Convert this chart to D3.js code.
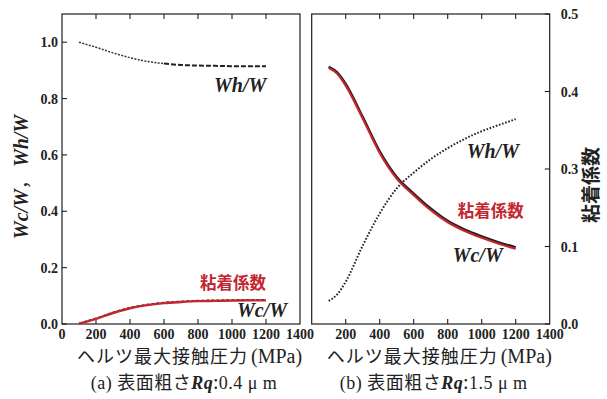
<!DOCTYPE html>
<html>
<head>
<meta charset="utf-8">
<script src="https://cdn.jsdelivr.net/npm/d3@7"></script>
<style>
  html, body { margin: 0; padding: 0; background: #fff; }
  svg { display: block; }
  .num { font-family: "Liberation Serif", "DejaVu Serif", serif; font-weight: bold; font-size: 14px; fill: #222; }
  .var { font-family: "Liberation Serif", "DejaVu Serif", serif; font-weight: bold; font-style: italic; fill: #222; }
  .jp  { font-family: "Noto Sans CJK JP", sans-serif; fill: #222; }
  .lat { font-family: "Liberation Serif", "DejaVu Serif", serif; fill: #222; }
</style>
</head>
<body>
<svg id="chart" width="607" height="399"></svg>
<script>
// Hertzian max contact pressure (MPa)
const pressure = [100, 150, 200, 300, 400, 500, 600, 700, 800, 900, 1000, 1100, 1200];

// (a) Rq = 0.4 um
const whA  = [1.000, 0.991, 0.982, 0.962, 0.945, 0.932, 0.924, 0.919, 0.917, 0.916, 0.915, 0.915, 0.915];
const wcA  = [0.003, 0.011, 0.020, 0.041, 0.058, 0.069, 0.076, 0.080, 0.083, 0.084, 0.085, 0.086, 0.086];
const adhA = [0.001, 0.009, 0.018, 0.039, 0.056, 0.067, 0.074, 0.078, 0.081, 0.082, 0.083, 0.084, 0.084];

// (b) Rq = 1.5 um
const whB  = [0.082, 0.105, 0.150, 0.278, 0.392, 0.481, 0.537, 0.585, 0.624, 0.657, 0.684, 0.706, 0.727];
const wcB  = [0.913, 0.893, 0.852, 0.735, 0.613, 0.522, 0.463, 0.410, 0.366, 0.335, 0.311, 0.290, 0.272];
const adhB = [0.908, 0.888, 0.846, 0.729, 0.607, 0.516, 0.457, 0.404, 0.361, 0.330, 0.306, 0.285, 0.267];

// axis ticks
const xTicks = [0, 200, 400, 600, 800, 1000, 1200, 1400];
const yTicks = [0, 0.2, 0.4, 0.6, 0.8, 1.0];
const adhAxisLabels = ["0.0", "0.1", "0.3", "0.4", "0.5"];

const RED = "#c3262e";
const INK = "#1e1e1e";

const svg = d3.select("#chart");
const W = 238, H = 310, TOP = 14;

const x = d3.scaleLinear().domain([0, 1400]).range([0, W]);
const y = d3.scaleLinear().domain([0, 1.1]).range([H, 0]);
const yAdh = d3.scalePoint().domain(adhAxisLabels).range([H, 0]);

const line = (vals, offset = 0) => d3.line()
  .x((d, i) => x(pressure[i + offset]))
  .y(d => y(d))
  .curve(d3.curveMonotoneX)(vals);

function frame(g, labelTicks) {
  g.append("rect").attr("x", 0).attr("y", 0).attr("width", W).attr("height", H)
    .attr("fill", "none").attr("stroke", INK).attr("stroke-width", 1.2);
  // inward ticks on top and bottom
  const inner = xTicks.filter(t => t > 0 && t < 1400);
  g.selectAll(".tt").data(inner).join("line")
    .attr("x1", d => x(d)).attr("x2", d => x(d)).attr("y1", 0).attr("y2", 5)
    .attr("stroke", INK).attr("stroke-width", 1.1);
  g.selectAll(".tb").data(inner).join("line")
    .attr("x1", d => x(d)).attr("x2", d => x(d)).attr("y1", H).attr("y2", H - 5)
    .attr("stroke", INK).attr("stroke-width", 1.1);
  // bottom tick labels
  g.selectAll(".xl").data(labelTicks).join("text").attr("class", "num")
    .attr("x", d => x(d)).attr("y", H + 15).attr("text-anchor", "middle").text(d => d);
}

function xTitle(g) {
  const t = g.append("text").attr("x", 15).attr("y", H + 39);
  t.append("tspan").attr("class", "jp").attr("font-size", 18).attr("letter-spacing", 1).text("ヘルツ最大接触圧力");
  t.append("tspan").attr("class", "lat").attr("font-size", 20).attr("dx", 3).text("(MPa)");
}

function subTitle(g, tag, val) {
  const t = g.append("text").attr("x", W / 2 + 3).attr("y", H + 65).attr("text-anchor", "middle")
    .attr("letter-spacing", 0.5);
  t.append("tspan").attr("class", "lat").attr("font-size", 18).text("(" + tag + ") ");
  t.append("tspan").attr("class", "jp").attr("font-size", 18).text("表面粗さ");
  t.append("tspan").attr("class", "var").attr("font-size", 18).text("Rq");
  t.append("tspan").attr("class", "jp").attr("font-size", 18).text(":");
  t.append("tspan").attr("class", "lat").attr("font-size", 18).text(val + " μ m");
}

function varLabel(g, px, py, text) {
  g.append("text").attr("class", "var").attr("font-size", 20)
    .attr("x", px).attr("y", py).text(text);
}
function redLabel(g, px, py) {
  g.append("text").attr("class", "jp").attr("font-size", 16.5).attr("font-weight", "bold")
    .style("fill", RED).attr("x", px).attr("y", py).text("粘着係数");
}

// ---------- panel (a) ----------
const ga = svg.append("g").attr("transform", `translate(62,${TOP})`);
frame(ga, xTicks);
ga.selectAll(".ty").data(yTicks).join("line")
  .attr("x1", 0).attr("x2", 5).attr("y1", d => y(d)).attr("y2", d => y(d))
  .attr("stroke", INK).attr("stroke-width", 1.1);
ga.selectAll(".yl").data(yTicks).join("text").attr("class", "num")
  .attr("x", -4).attr("y", d => y(d) + 5).attr("text-anchor", "end").text(d => d.toFixed(1));

// Wh/W: fine dots early, longer dashes later
const splitA = 6;
ga.append("path").attr("d", line(whA.slice(0, splitA + 1)))
  .attr("fill", "none").attr("stroke", "#333").attr("stroke-width", 1.5)
  .attr("stroke-dasharray", "2,1.4");
ga.append("path").attr("d", line(whA.slice(splitA), splitA))
  .attr("fill", "none").attr("stroke", "#222").attr("stroke-width", 2)
  .attr("stroke-dasharray", "5,2");

ga.append("path").attr("d", line(wcA)).attr("fill", "none")
  .attr("stroke", INK).attr("stroke-width", 1.6).attr("stroke-dasharray", "3,2");
ga.append("path").attr("d", line(adhA)).attr("fill", "none")
  .attr("stroke", RED).attr("stroke-width", 2.4);

varLabel(ga, 152, 78, "Wh/W");
redLabel(ga, 138, 275);
varLabel(ga, 175, 303, "Wc/W");

// y-axis title
const yt = svg.append("text").attr("transform", "translate(28,177) rotate(-90)").attr("text-anchor", "middle");
yt.append("tspan").attr("class", "var").attr("font-size", 20).text("Wc/W");
yt.append("tspan").attr("class", "jp").attr("font-size", 18).text("，  ");
yt.append("tspan").attr("class", "var").attr("font-size", 20).text("Wh/W");

xTitle(ga);
subTitle(ga, "a", "0.4");

// ---------- panel (b) ----------
const gb = svg.append("g").attr("transform", `translate(311.7,${TOP})`);
frame(gb, xTicks.filter(t => t > 0));
gb.selectAll(".tr").data(adhAxisLabels).join("line")
  .attr("x1", W).attr("x2", W - 5).attr("y1", d => yAdh(d)).attr("y2", d => yAdh(d))
  .attr("stroke", INK).attr("stroke-width", 1.1);
gb.selectAll(".rl").data(adhAxisLabels).join("text").attr("class", "num")
  .attr("x", W + 11).attr("y", d => yAdh(d) + 5).text(d => d);

gb.append("path").attr("d", line(whB)).attr("fill", "none")
  .attr("stroke", "#222").attr("stroke-width", 2).attr("stroke-dasharray", "1.6,1.7");
gb.append("path").attr("d", line(wcB)).attr("fill", "none")
  .attr("stroke", INK).attr("stroke-width", 2.4);
gb.append("path").attr("d", line(adhB)).attr("fill", "none")
  .attr("stroke", RED).attr("stroke-width", 2.2);

varLabel(gb, 155, 144, "Wh/W");
redLabel(gb, 146, 203);
varLabel(gb, 141, 248, "Wc/W");

// right axis title
svg.append("text").attr("class", "jp").attr("font-size", 19).attr("font-weight", "bold")
  .attr("text-anchor", "middle")
  .attr("transform", "translate(598,185) rotate(-90)").text("粘着係数");

xTitle(gb);
subTitle(gb, "b", "1.5");
</script>
</body>
</html>
